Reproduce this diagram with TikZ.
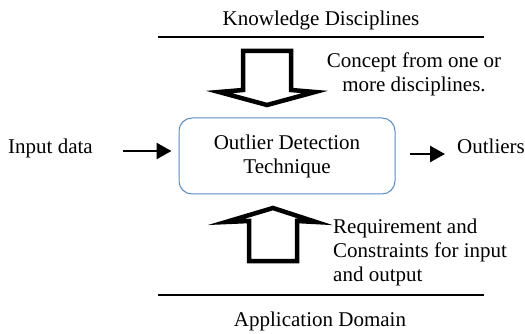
\documentclass[tikz,border=0pt]{standalone}
\usepackage{fontspec}
\setmainfont{Liberation Serif}
\usetikzlibrary{arrows.meta}
\definecolor{boxblue}{RGB}{91,138,200}
\tikzset{
  txt/.style={inner sep=0pt, font=\fontsize{21}{24}\selectfont},
  rule/.style={line width=2pt, black},
  blockarrow/.style={line width=4.5pt, draw=black, fill=white, line join=miter, miter limit=12},
  flow/.style={line width=2.5pt, -{Triangle[length=15pt,width=16pt]}},
  techbox/.style={draw=boxblue, line width=1pt, rounded corners=13pt, minimum width=216pt, minimum height=76pt, align=center, inner sep=0pt, font=\fontsize{21}{24}\selectfont}
}
\begin{document}
\begin{tikzpicture}[x=1pt,y=-1pt]
\useasboundingbox (0,0) rectangle (525,334);
% titles and rules
\node[txt, anchor=base] (kd) at (321,26) {Knowledge Disciplines};
\coordinate (tl1) at (158,37);
\coordinate (tl2) at (484,37);
\draw[rule] (tl1) -- (tl2);
\node[txt, anchor=base] (ad) at (320,326) {Application Domain};
\coordinate (bl1) at (158,295);
\coordinate (bl2) at (484,295);
\draw[rule] (bl1) -- (bl2);
% block arrows
\draw[blockarrow] (243,51) -- (291,51) -- (291,90) -- (315,92) -- (267,105) -- (219,92) -- (243,90) -- cycle;
\draw[blockarrow] (249,261) -- (297,261) -- (297,221) -- (316,222) -- (273,208) -- (226,222) -- (249,221) -- cycle;
% labels
\node[txt, align=center] (concept) at (414,74) {Concept from one or\\more disciplines.};
\node[txt, align=left, anchor=west] (req) at (333,252.5) {Requirement and\\Constraints for input\\and output};
% main box
\node[techbox] (box) at (287,156) {Outlier Detection\\Technique};
% input / output
\node[txt, anchor=base west] (in) at (8,154) {Input data};
\node[txt, anchor=base west] (out) at (457,154) {Outliers};
\coordinate (a1) at (123,151);
\coordinate (a2) at (410,154);
\draw[flow, shorten >=7pt] (a1) -- (box.west |- a1);
\draw[flow, shorten >=12pt] (a2) -- (out.west |- a2);
\end{tikzpicture}
\end{document}
